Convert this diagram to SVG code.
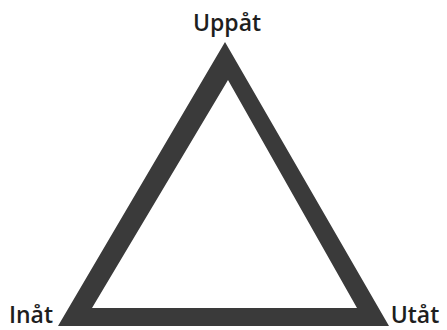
<svg xmlns="http://www.w3.org/2000/svg" width="447" height="330" viewBox="0 0 447 330">
<style>
.lbl{font-family:"Open Sans","DejaVu Sans",sans-serif;font-size:23px;font-weight:600;fill:#1e1e1e}
.tri{fill:#3a3a3a;fill-rule:evenodd}
</style>
<rect width="447" height="330" fill="#ffffff"/>
<g id="triangle">
<path class="tri" d="M225,42 L58,326 L389,326 Z M228,80 L92,308 L357,308 Z"/>
</g>
<g id="node-uppat"><text class="lbl" x="227" y="31" text-anchor="middle">Uppåt</text></g>
<g id="node-inat"><text class="lbl" x="31" y="323" text-anchor="middle">Inåt</text></g>
<g id="node-utat"><text class="lbl" x="415" y="323" text-anchor="middle">Utåt</text></g>
<g id="connectors"></g>
</svg>
